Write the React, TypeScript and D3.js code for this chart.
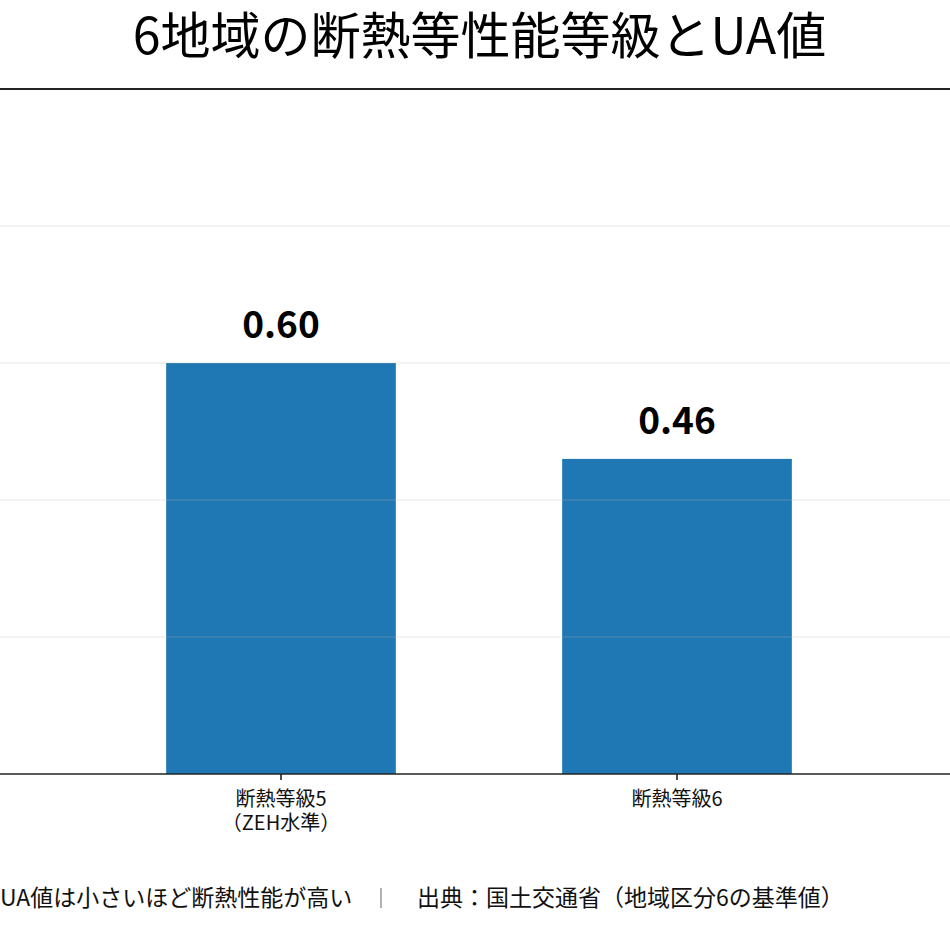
import React from "react";
import * as d3 from "d3";

const categories: string[][] = [["断熱等級5", "（ZEH水準）"], ["断熱等級6"]];
const categoryKeys: string[] = ["等級5", "等級6"];
const uaValues: number[] = [0.6, 0.46];
const yTicks: number[] = [0, 0.2, 0.4, 0.6, 0.8, 1.0];
const title = "6地域の断熱等性能等級とUA値";
const noteText = "UA値は小さいほど断熱性能が高い";
const sourceText = "出典：国土交通省（地域区分6の基準値）";

const W = 950;
const H = 925;
const FONT = "'Noto Sans CJK JP', 'Noto Sans', sans-serif";

export default function App() {
  const y = d3.scaleLinear().domain([0, 1.0]).range([774, 89]);
  const x = d3
    .scaleBand<string>()
    .domain(categoryKeys)
    .range([83, 875])
    .paddingInner(0.42)
    .paddingOuter(0.21);
  const bw = x.bandwidth();

  return (
    <svg
      width={W}
      height={H}
      style={{ position: "absolute", left: 0, top: 0, background: "#fff" }}
      fontFamily={FONT}
    >
      <rect x={0} y={0} width={W} height={H} fill="#fff" />
      <text x={479.5} y={54} textAnchor="middle" fontSize={50} fill="#000">
        {title}
      </text>
      {/* bars */}
      {uaValues.map((v, i) => (
        <rect
          key={categoryKeys[i]}
          x={x(categoryKeys[i])!}
          y={y(v)}
          width={bw}
          height={y(0) - y(v)}
          fill="#1f77b4"
        />
      ))}
      {/* gridlines */}
      {yTicks
        .filter((t) => t > 0 && t < 1)
        .map((t) => (
          <line
            key={t}
            x1={0}
            x2={W}
            y1={y(t)}
            y2={y(t)}
            stroke="#b8b8b8"
            strokeOpacity={0.22}
            strokeWidth={1.6}
          />
        ))}
      {/* top frame */}
      <line x1={0} x2={W} y1={y(1.0)} y2={y(1.0)} stroke="#222" strokeWidth={2} />
      {/* baseline */}
      <line x1={0} x2={W} y1={y(0)} y2={y(0)} stroke="#222" strokeWidth={1.6} />
      {/* ticks and labels */}
      {categoryKeys.map((k, i) => {
        const cx = x(k)! + bw / 2;
        return (
          <g key={k}>
            <line x1={cx} x2={cx} y1={y(0)} y2={y(0) + 6} stroke="#222" strokeWidth={1.6} />
            {categories[i].map((line, j) => (
              <text
                key={j}
                x={cx}
                y={806 + j * 24}
                textAnchor="middle"
                fontSize={20}
                fill="#111"
              >
                {line}
              </text>
            ))}
            <text
              x={cx}
              y={y(uaValues[i]) - 25}
              textAnchor="middle"
              fontSize={37}
              fontWeight={700}
              fill="#000"
            >
              {uaValues[i].toFixed(2)}
            </text>
          </g>
        );
      })}
      {/* footer */}
      <text x={0} y={906} fontSize={23} fill="#111">
        {noteText}
      </text>
      <line x1={381} x2={381} y1={888} y2={908} stroke="#888" strokeWidth={1.3} />
      <text x={417} y={906} fontSize={23} fill="#111">
        {sourceText}
      </text>
    </svg>
  );
}
